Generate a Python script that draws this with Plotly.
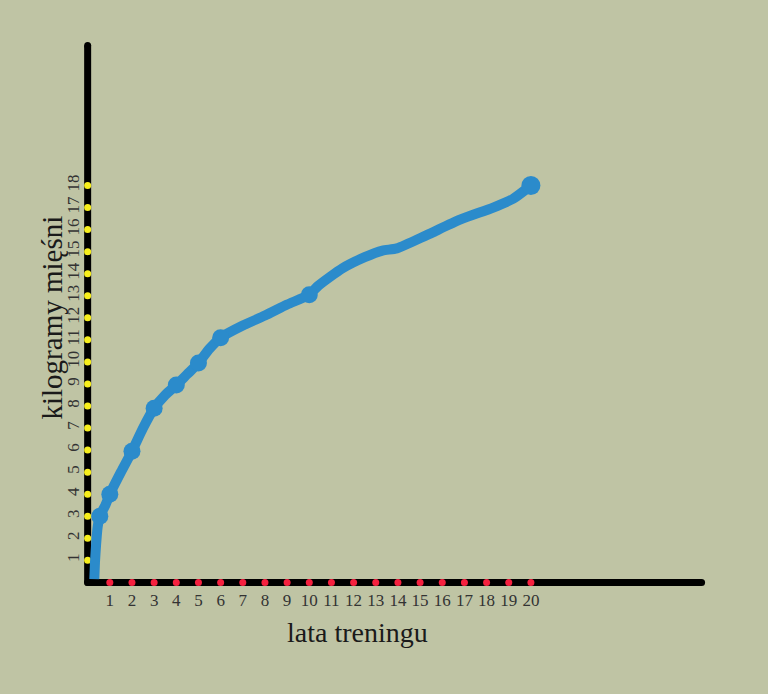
import plotly.graph_objects as go

# Data
years_line = [0.3, 0.33, 0.38, 0.45, 0.55, 0.8, 1.0, 1.5, 2.0, 2.5, 3.0, 3.5, 4.0, 4.5, 5.0, 5.5, 6.0,
              7.0, 8.0, 9.0, 10.0, 10.4, 11.5, 12.5, 13.3, 13.95, 15.3, 16.8, 18.3, 19.2, 20.0]
kg_line = [0.15, 0.9, 1.7, 2.5, 3.0, 3.5, 4.0, 5.0, 5.95, 7.0, 7.9, 8.5, 8.95, 9.45, 9.95, 10.6, 11.1,
           11.65, 12.1, 12.6, 13.05, 13.45, 14.25, 14.75, 15.05, 15.15, 15.75, 16.45, 17.0, 17.4, 18.0]

years_marked = [0.55, 1, 2, 3, 4, 5, 6, 10, 20]
kg_marked = [3.0, 4.0, 5.95, 7.9, 8.95, 9.95, 11.1, 13.05, 18.0]
marker_sizes = [17, 17, 17, 17, 17, 17, 17, 17, 19]

x_ticks = list(range(1, 21))
x_tick_labels = [str(v) for v in x_ticks]
y_ticks = list(range(1, 19))
y_tick_labels = [str(v) for v in y_ticks]

x_axis_end = 27.7
y_axis_end = 24.35

bg = "#bfc4a4"
blue = "#2b8bcb"
fig = go.Figure()

# axis lines (hand-drawn look)
fig.add_trace(go.Scatter(x=[0, x_axis_end], y=[0, 0], mode="lines+markers",
                         line=dict(color="black", width=7),
                         marker=dict(color="black", size=7, line=dict(width=0)),
                         cliponaxis=False, hoverinfo="skip", showlegend=False))
fig.add_trace(go.Scatter(x=[0, 0], y=[0, y_axis_end], mode="lines+markers",
                         line=dict(color="black", width=7),
                         marker=dict(color="black", size=7, line=dict(width=0)),
                         cliponaxis=False, hoverinfo="skip", showlegend=False))
# red dots on x axis
fig.add_trace(go.Scatter(x=x_ticks, y=[0] * len(x_ticks), mode="markers",
                         marker=dict(color="#f5203f", size=7, line=dict(width=0)),
                         cliponaxis=False, hoverinfo="skip", showlegend=False))
# yellow dots on y axis
fig.add_trace(go.Scatter(x=[0] * len(y_ticks), y=y_ticks, mode="markers",
                         marker=dict(color="#f7ee1c", size=7, line=dict(width=0)),
                         cliponaxis=False, hoverinfo="skip", showlegend=False))
# blue curve
fig.add_trace(go.Scatter(x=years_line, y=kg_line, mode="lines",
                         line=dict(color=blue, width=10, shape="spline", smoothing=0.6),
                         cliponaxis=False, showlegend=False))
fig.add_trace(go.Scatter(x=years_marked, y=kg_marked, mode="markers",
                         marker=dict(color=blue, size=marker_sizes, opacity=1, line=dict(width=0)),
                         cliponaxis=False, showlegend=False))

fig.update_layout(
    width=768, height=694,
    margin=dict(l=81, r=62, t=40, b=105),
    paper_bgcolor=bg, plot_bgcolor=bg,
    font=dict(family="Liberation Serif", color="#333333"),
    xaxis=dict(range=[-0.3, 27.9], showgrid=False, zeroline=False, showline=False,
               tickvals=x_ticks, ticktext=x_tick_labels, ticks="",
               ticklabelstandoff=-1, tickfont=dict(size=17, color="#333333")),
    yaxis=dict(range=[-0.3, 24.6], showgrid=False, zeroline=False, showline=False,
               tickvals=y_ticks, ticktext=y_tick_labels, ticks="", tickangle=-90,
               ticklabelstandoff=-2, tickfont=dict(size=17, color="#333333")),
    annotations=[
        dict(text="lata treningu", xref="paper", yref="paper", x=0.443, y=-0.08,
             xanchor="center", yanchor="middle", showarrow=False,
             font=dict(size=28, color="#1a1a1a", family="Liberation Serif")),
        dict(text="kilogramy mięśni", xref="paper", yref="paper", x=-0.046, y=0.495,
             xanchor="center", yanchor="middle", showarrow=False, textangle=-90,
             font=dict(size=29, color="#1a1a1a", family="Liberation Serif")),
    ],
)

fig.write_html("out.html", config={"displayModeBar": False},
               post_script="document.body.style.margin='0';document.body.style.overflow='hidden';")
